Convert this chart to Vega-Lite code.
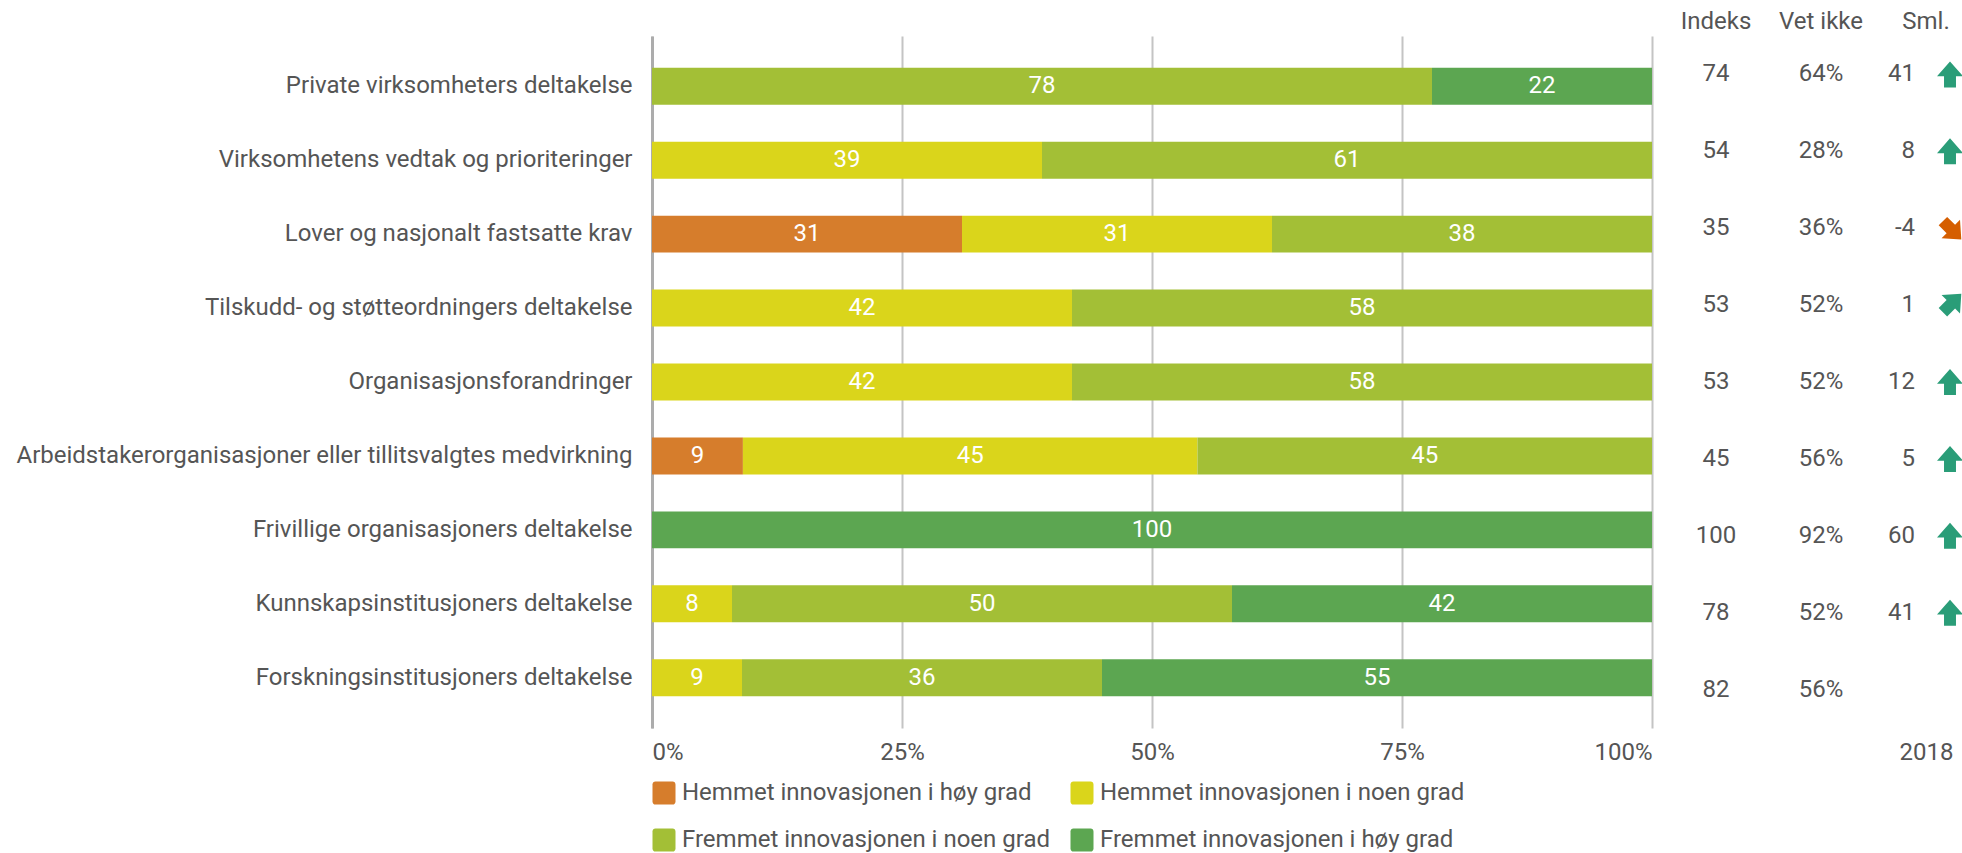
{
  "$schema": "https://vega.github.io/schema/vega-lite/v6.json",
  "padding": {"left": 15, "top": 10, "right": 0, "bottom": 0},
  "background": "white",
  "config": {
    "font": "Roboto",
    "view": {"stroke": null},
    "title": {"fontSize": 24, "fontWeight": "normal", "color": "#555555", "font": "Roboto", "offset": 2, "anchor": "middle"},
    "axis": {"labelFont": "Roboto", "labelFontSize": 24, "labelColor": "#555555"}
  },
  "datasets": {
    "svar": [
      {"kategori": "Private virksomheters deltakelse", "svar": "Fremmet innovasjonen i noen grad", "andel": 78},
      {"kategori": "Private virksomheters deltakelse", "svar": "Fremmet innovasjonen i høy grad", "andel": 22},
      {"kategori": "Virksomhetens vedtak og prioriteringer", "svar": "Hemmet innovasjonen i noen grad", "andel": 39},
      {"kategori": "Virksomhetens vedtak og prioriteringer", "svar": "Fremmet innovasjonen i noen grad", "andel": 61},
      {"kategori": "Lover og nasjonalt fastsatte krav", "svar": "Hemmet innovasjonen i høy grad", "andel": 31},
      {"kategori": "Lover og nasjonalt fastsatte krav", "svar": "Hemmet innovasjonen i noen grad", "andel": 31},
      {"kategori": "Lover og nasjonalt fastsatte krav", "svar": "Fremmet innovasjonen i noen grad", "andel": 38},
      {"kategori": "Tilskudd- og støtteordningers deltakelse", "svar": "Hemmet innovasjonen i noen grad", "andel": 42},
      {"kategori": "Tilskudd- og støtteordningers deltakelse", "svar": "Fremmet innovasjonen i noen grad", "andel": 58},
      {"kategori": "Organisasjonsforandringer", "svar": "Hemmet innovasjonen i noen grad", "andel": 42},
      {"kategori": "Organisasjonsforandringer", "svar": "Fremmet innovasjonen i noen grad", "andel": 58},
      {"kategori": "Arbeidstakerorganisasjoner eller tillitsvalgtes medvirkning", "svar": "Hemmet innovasjonen i høy grad", "andel": 9},
      {"kategori": "Arbeidstakerorganisasjoner eller tillitsvalgtes medvirkning", "svar": "Hemmet innovasjonen i noen grad", "andel": 45},
      {"kategori": "Arbeidstakerorganisasjoner eller tillitsvalgtes medvirkning", "svar": "Fremmet innovasjonen i noen grad", "andel": 45},
      {"kategori": "Frivillige organisasjoners deltakelse", "svar": "Fremmet innovasjonen i høy grad", "andel": 100},
      {"kategori": "Kunnskapsinstitusjoners deltakelse", "svar": "Hemmet innovasjonen i noen grad", "andel": 8},
      {"kategori": "Kunnskapsinstitusjoners deltakelse", "svar": "Fremmet innovasjonen i noen grad", "andel": 50},
      {"kategori": "Kunnskapsinstitusjoners deltakelse", "svar": "Fremmet innovasjonen i høy grad", "andel": 42},
      {"kategori": "Forskningsinstitusjoners deltakelse", "svar": "Hemmet innovasjonen i noen grad", "andel": 9},
      {"kategori": "Forskningsinstitusjoners deltakelse", "svar": "Fremmet innovasjonen i noen grad", "andel": 36},
      {"kategori": "Forskningsinstitusjoners deltakelse", "svar": "Fremmet innovasjonen i høy grad", "andel": 55}
    ],
    "tabell": [
      {"kategori": "Private virksomheters deltakelse", "indeks": 74, "vet_ikke": 0.64, "sml": 41, "trend": "opp", "sammenlignet": "2018"},
      {"kategori": "Virksomhetens vedtak og prioriteringer", "indeks": 54, "vet_ikke": 0.28, "sml": 8, "trend": "opp", "sammenlignet": "2018"},
      {"kategori": "Lover og nasjonalt fastsatte krav", "indeks": 35, "vet_ikke": 0.36, "sml": -4, "trend": "ned-skrå", "sammenlignet": "2018"},
      {"kategori": "Tilskudd- og støtteordningers deltakelse", "indeks": 53, "vet_ikke": 0.52, "sml": 1, "trend": "opp-skrå", "sammenlignet": "2018"},
      {"kategori": "Organisasjonsforandringer", "indeks": 53, "vet_ikke": 0.52, "sml": 12, "trend": "opp", "sammenlignet": "2018"},
      {"kategori": "Arbeidstakerorganisasjoner eller tillitsvalgtes medvirkning", "indeks": 45, "vet_ikke": 0.56, "sml": 5, "trend": "opp", "sammenlignet": "2018"},
      {"kategori": "Frivillige organisasjoners deltakelse", "indeks": 100, "vet_ikke": 0.92, "sml": 60, "trend": "opp", "sammenlignet": "2018"},
      {"kategori": "Kunnskapsinstitusjoners deltakelse", "indeks": 78, "vet_ikke": 0.52, "sml": 41, "trend": "opp", "sammenlignet": "2018"},
      {"kategori": "Forskningsinstitusjoners deltakelse", "indeks": 82, "vet_ikke": 0.56, "sml": null, "trend": null, "sammenlignet": "2018"}
    ]
  },
  "spacing": 30,
  "bounds": "flush",
  "resolve": {"scale": {"color": "independent"}, "legend": {"color": "independent"}},
  "hconcat": [
    {
      "width": 1000,
      "height": 692,
      "data": {"name": "svar"},
      "transform": [
        {"calculate": "indexof(['Hemmet innovasjonen i høy grad','Hemmet innovasjonen i noen grad','Fremmet innovasjonen i noen grad','Fremmet innovasjonen i høy grad'], datum.svar)", "as": "rekkefolge"},
        {"stack": "andel", "groupby": ["kategori"], "sort": [{"field": "rekkefolge", "order": "ascending"}], "offset": "normalize", "as": ["x0", "x1"]},
        {"calculate": "(datum.x0 + datum.x1) / 2", "as": "xmid"}
      ],
      "encoding": {
        "y": {
          "field": "kategori", "type": "nominal",
          "scale": {"domain": ["Private virksomheters deltakelse", "Virksomhetens vedtak og prioriteringer", "Lover og nasjonalt fastsatte krav", "Tilskudd- og støtteordningers deltakelse", "Organisasjonsforandringer", "Arbeidstakerorganisasjoner eller tillitsvalgtes medvirkning", "Frivillige organisasjoners deltakelse", "Kunnskapsinstitusjoners deltakelse", "Forskningsinstitusjoners deltakelse"], "paddingInner": 0.5, "paddingOuter": 0.43},
          "axis": {"title": null, "ticks": false, "labelPadding": 20, "labelLimit": 0, "domain": true, "domainColor": "#acacac", "domainWidth": 3, "grid": false}
        }
      },
      "layer": [
        {
          "mark": {"type": "bar"},
          "encoding": {
            "x": {"field": "x0", "type": "quantitative", "scale": {"domain": [0, 1]},
                  "axis": {"title": null, "values": [0, 0.25, 0.5, 0.75, 1], "format": ".0%", "grid": true, "gridColor": "#c4c4c4", "gridWidth": 2, "domain": false, "ticks": false, "labelFlush": true, "labelPadding": 12}},
            "x2": {"field": "x1"},
            "color": {
              "field": "svar", "type": "nominal",
              "scale": {"domain": ["Hemmet innovasjonen i høy grad", "Hemmet innovasjonen i noen grad", "Fremmet innovasjonen i noen grad", "Fremmet innovasjonen i høy grad"], "range": ["#d67d2c", "#dad51b", "#a3bf36", "#5ca651"]},
              "legend": {"title": null, "orient": "bottom", "direction": "horizontal", "columns": 2, "gridAlign": "none",
                         "symbolType": "M-0.75,-1L0.75,-1A0.25,0.25 0 0 1 1,-0.75L1,0.75A0.25,0.25 0 0 1 0.75,1L-0.75,1A0.25,0.25 0 0 1 -1,0.75L-1,-0.75A0.25,0.25 0 0 1 -0.75,-1Z",
                         "symbolSize": 529, "symbolStrokeWidth": 0, "symbolOpacity": 1,
                         "labelFontSize": 24, "labelColor": "#555555", "labelFont": "Roboto", "labelOffset": 6,
                         "columnPadding": 20, "rowPadding": 23, "offset": 17, "labelLimit": 0}
            }
          }
        },
        {
          "mark": {"type": "text", "color": "white", "fontSize": 24, "font": "Roboto", "baseline": "middle"},
          "encoding": {
            "x": {"field": "xmid", "type": "quantitative"},
            "text": {"field": "andel", "type": "nominal"}
          }
        }
      ]
    },
    {
      "width": 68,
      "height": 692,
      "title": "Indeks",
      "data": {"name": "tabell"},
      "mark": {"type": "text", "fontSize": 24, "color": "#555555", "font": "Roboto", "baseline": "middle"},
      "encoding": {
        "y": {"field": "kategori", "type": "nominal",
              "scale": {"domain": ["Private virksomheters deltakelse", "Virksomhetens vedtak og prioriteringer", "Lover og nasjonalt fastsatte krav", "Tilskudd- og støtteordningers deltakelse", "Organisasjonsforandringer", "Arbeidstakerorganisasjoner eller tillitsvalgtes medvirkning", "Frivillige organisasjoners deltakelse", "Kunnskapsinstitusjoners deltakelse", "Forskningsinstitusjoners deltakelse"], "paddingInner": 0.5, "paddingOuter": 0.43},
              "axis": null},
        "text": {"field": "indeks", "type": "nominal"}
      }
    },
    {
      "width": 82,
      "height": 692,
      "title": "Vet ikke",
      "data": {"name": "tabell"},
      "mark": {"type": "text", "fontSize": 24, "color": "#555555", "font": "Roboto", "baseline": "middle"},
      "encoding": {
        "y": {"field": "kategori", "type": "nominal",
              "scale": {"domain": ["Private virksomheters deltakelse", "Virksomhetens vedtak og prioriteringer", "Lover og nasjonalt fastsatte krav", "Tilskudd- og støtteordningers deltakelse", "Organisasjonsforandringer", "Arbeidstakerorganisasjoner eller tillitsvalgtes medvirkning", "Frivillige organisasjoners deltakelse", "Kunnskapsinstitusjoners deltakelse", "Forskningsinstitusjoners deltakelse"], "paddingInner": 0.5, "paddingOuter": 0.43},
              "axis": null},
        "text": {"field": "vet_ikke", "type": "quantitative", "format": ".0%"}
      }
    },
    {
      "width": 68,
      "height": 692,
      "title": "Sml.",
      "data": {"name": "tabell"},
      "encoding": {
        "y": {"field": "kategori", "type": "nominal",
              "scale": {"domain": ["Private virksomheters deltakelse", "Virksomhetens vedtak og prioriteringer", "Lover og nasjonalt fastsatte krav", "Tilskudd- og støtteordningers deltakelse", "Organisasjonsforandringer", "Arbeidstakerorganisasjoner eller tillitsvalgtes medvirkning", "Frivillige organisasjoners deltakelse", "Kunnskapsinstitusjoners deltakelse", "Forskningsinstitusjoners deltakelse"], "paddingInner": 0.5, "paddingOuter": 0.43},
              "axis": null},
        "x": {"field": "sammenlignet", "type": "nominal", "scale": {"paddingInner": 0, "paddingOuter": 0},
              "axis": {"title": null, "ticks": false, "domain": false, "grid": false, "labelAngle": 0, "labelPadding": 12}}
      },
      "layer": [
        {
          "transform": [{"filter": {"field": "sml", "valid": true}}],
          "mark": {"type": "text", "fontSize": 24, "color": "#555555", "font": "Roboto", "baseline": "middle", "align": "right", "dx": -11},
          "encoding": {"text": {"field": "sml", "type": "nominal"}}
        },
        {
          "transform": [{"filter": {"field": "sml", "valid": true}}],
          "mark": {"type": "point", "filled": true, "size": 676, "opacity": 1, "strokeWidth": 0, "xOffset": 24},
          "encoding": {
            "shape": {"field": "trend", "type": "nominal",
                      "scale": {"domain": ["opp", "opp-skrå", "ned-skrå"],
                                "range": ["M-0.46,1L0.46,1L0.46,0.14L1,0.14L0,-1L-1,0.14L-0.46,0.14Z",
                                          "M-0.87,0.22L-0.22,0.87L0.39,0.26L0.77,0.65L0.87,-0.87L-0.65,-0.77L-0.26,-0.39Z",
                                          "M-0.22,-0.87L-0.87,-0.22L-0.26,0.39L-0.65,0.77L0.87,0.87L0.77,-0.65L0.39,-0.26Z"]},
                      "legend": null},
            "color": {"condition": {"test": "datum.trend === 'ned-skrå'", "value": "#d55e00"}, "value": "#2a9d78"}
          }
        }
      ]
    }
  ]
}
